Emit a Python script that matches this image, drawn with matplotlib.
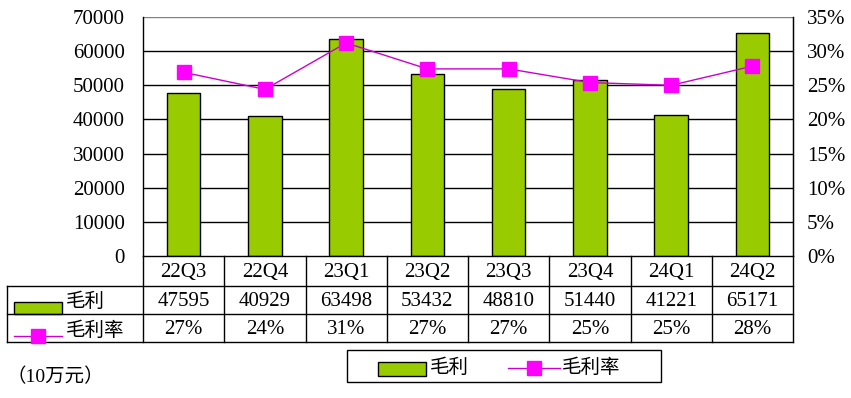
import matplotlib
matplotlib.use("Agg")
import matplotlib.pyplot as plt
from matplotlib.patches import Rectangle
from matplotlib.lines import Line2D
import matplotlib.transforms as mtransforms

plt.rcParams['font.family'] = ['Liberation Serif', 'Noto Sans CJK SC', 'DejaVu Sans']

quarters = ["22Q3", "22Q4", "23Q1", "23Q2", "23Q3", "23Q4", "24Q1", "24Q2"]
gross_profit = [47595, 40929, 63498, 53432, 48810, 51440, 41221, 65171]
margin_pct = [26.9, 24.4, 31.2, 27.4, 27.4, 25.4, 25.0, 27.8]
margin_labels = ["27%", "24%", "31%", "27%", "27%", "25%", "25%", "28%"]
left_ticks = [0, 10000, 20000, 30000, 40000, 50000, 60000, 70000]
right_ticks = [0, 5, 10, 15, 20, 25, 30, 35]
series_names = ["毛利", "毛利率"]
unit_text = "（10万元）"

W, H = 851, 398
BAR_COLOR = "#99CC00"
LINE_COLOR = "#FF00FF"
FS = 15
CJK = ['Noto Sans CJK SC']
CJK_FS = 14
CJK_W = "light"

fig = plt.figure(figsize=(W / 100, H / 100), dpi=100)

def fx(px):
    return px / W

def fy(py):
    return 1 - py / H

ax_l, ax_r, ax_t, ax_b = 143, 793, 17, 256
ax = fig.add_axes([fx(ax_l), fy(ax_b), fx(ax_r - ax_l), fy(ax_t) - fy(ax_b)])
x = list(range(len(quarters)))
ax.bar(x, gross_profit, width=0.41, color=BAR_COLOR, edgecolor="black", linewidth=1.0, zorder=3)
ax.set_xlim(-0.5, len(quarters) - 0.5)
ax.set_ylim(0, 70000)
ax.set_yticks(left_ticks)
ax.set_yticklabels([str(t) for t in left_ticks], fontsize=FS)
ax.tick_params(axis='y', length=0, pad=13)
ax.set_xticks([])
for yv in left_ticks[1:-1]:
    ax.axhline(yv, color="black", linewidth=1.0, zorder=1)
ax.axhline(70000, color="#808080", linewidth=1.0, zorder=1)
for s in ["left", "right"]:
    ax.spines[s].set_color("black")
    ax.spines[s].set_linewidth(1.0)
ax.spines["top"].set_visible(False)
ax.spines["bottom"].set_visible(False)

ax2 = ax.twinx()
ax2.plot(x, margin_pct, color="#CC00CC", linewidth=1.0, marker="s", markersize=9.5,
         markerfacecolor=LINE_COLOR, markeredgecolor=LINE_COLOR, zorder=5)
ax2.set_ylim(0, 35)
ax2.set_yticks(right_ticks)
ax2.set_yticklabels([f"{t}%" for t in right_ticks], fontsize=FS)
ax2.tick_params(axis='y', length=0, pad=10)
for s in ["top", "bottom", "left"]:
    ax2.spines[s].set_visible(False)
ax2.spines["right"].set_color("black")

# Data table
trans = mtransforms.blended_transform_factory(ax.transData, fig.transFigure)
row_y = [256, 286, 314, 342]
lw = 1.0
fig.add_artist(Line2D([fx(ax_l), fx(ax_r)], [fy(row_y[0])] * 2, color="black", lw=lw))
for yy in row_y[1:]:
    fig.add_artist(Line2D([fx(7), fx(ax_r)], [fy(yy)] * 2, color="black", lw=lw))
for k in range(len(quarters) + 1):
    fig.add_artist(Line2D([k - 0.5, k - 0.5], [fy(row_y[0]), fy(row_y[3])],
                          color="black", lw=lw, transform=trans))
fig.add_artist(Line2D([fx(7), fx(7)], [fy(row_y[1]), fy(row_y[3])], color="black", lw=lw))

for i, q in enumerate(quarters):
    fig.text(i, fy(272), q, transform=trans, ha="center", va="center", fontsize=FS)
    fig.text(i, fy(302), str(gross_profit[i]), transform=trans, ha="center", va="center", fontsize=FS)
    fig.text(i, fy(330), margin_labels[i], transform=trans, ha="center", va="center", fontsize=FS)

# row headers
fig.add_artist(Rectangle((fx(14), fy(314)), fx(48), fy(302) - fy(314),
                         facecolor=BAR_COLOR, edgecolor="black", lw=1.0))
fig.text(fx(66), fy(301), series_names[0], ha="left", va="center", fontsize=CJK_FS,
         family=CJK, fontweight=CJK_W)
fig.add_artist(Line2D([fx(14), fx(62)], [fy(336)] * 2, color="#CC00CC", lw=1.0))
fig.add_artist(Line2D([fx(38)], [fy(336)], marker="s", markersize=9.5,
                      markerfacecolor=LINE_COLOR, markeredgecolor=LINE_COLOR))
fig.text(fx(66), fy(330), series_names[1], ha="left", va="center", fontsize=CJK_FS,
         family=CJK, fontweight=CJK_W)

# Legend box
fig.add_artist(Rectangle((fx(347), fy(382)), fx(661 - 347), fy(350) - fy(382),
                         facecolor="white", edgecolor="black", lw=1.0))
fig.add_artist(Rectangle((fx(378), fy(376)), fx(48), fy(362) - fy(376),
                         facecolor=BAR_COLOR, edgecolor="black", lw=1.0))
fig.text(fx(430), fy(367), series_names[0], ha="left", va="center", fontsize=CJK_FS,
         family=CJK, fontweight=CJK_W)
fig.add_artist(Line2D([fx(508), fx(560)], [fy(368)] * 2, color="#CC00CC", lw=1.0))
fig.add_artist(Line2D([fx(534)], [fy(368)], marker="s", markersize=9.5,
                      markerfacecolor=LINE_COLOR, markeredgecolor=LINE_COLOR))
fig.text(fx(562), fy(367), series_names[1], ha="left", va="center", fontsize=CJK_FS,
         family=CJK, fontweight=CJK_W)

fig.text(fx(6), fy(377), unit_text, ha="left", va="center", fontsize=CJK_FS,
         family=['Liberation Serif', 'Noto Sans CJK SC'], fontweight=CJK_W)

fig.savefig("out.png", dpi=100, facecolor="white")
